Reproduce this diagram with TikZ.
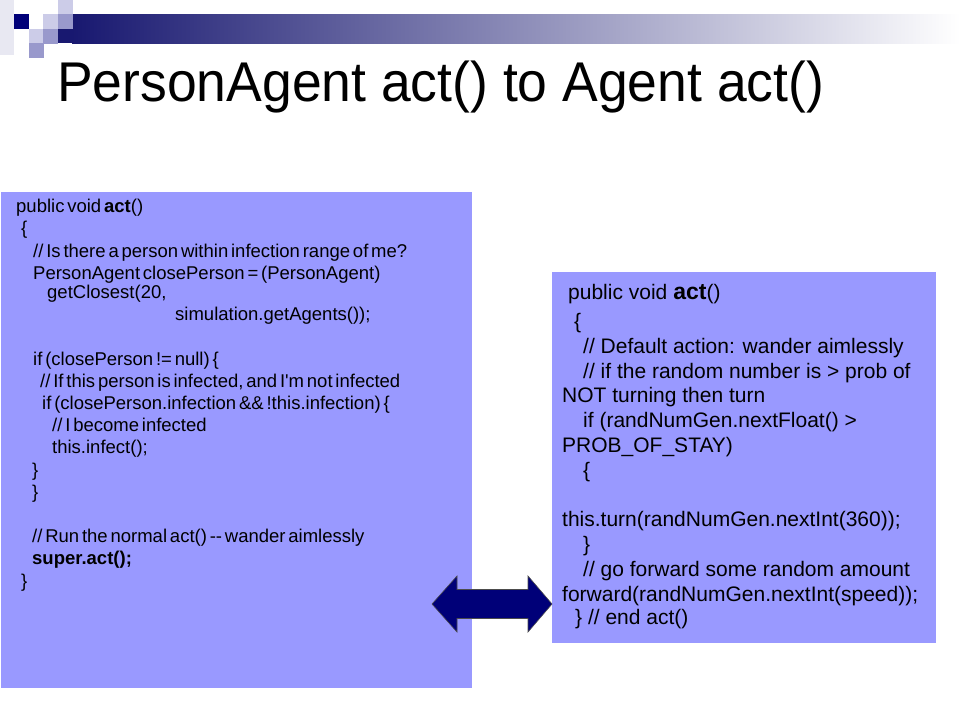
\documentclass[tikz,border=0pt]{standalone}
\usepackage{fontspec}
\setmainfont{Liberation Sans}
\newfontfamily\tightsans{Liberation Sans}[WordSpace=0.55]
\usepackage{graphicx}
\usetikzlibrary{positioning}

\definecolor{slidenavy}{RGB}{0,0,120}
\definecolor{barnavy}{RGB}{24,24,112}
\definecolor{pixlight}{RGB}{204,204,232}
\definecolor{pixmid}{RGB}{153,153,204}
\definecolor{pixfaint}{RGB}{232,232,242}
\definecolor{codefill}{RGB}{153,153,255}

\begin{document}
\begin{tikzpicture}[
x=1pt,y=-1pt,
codebox/.style={
  draw=none,
  fill=codefill,
  inner sep=0pt,
  anchor=north west
  },
codetext/.style={
  inner sep=0pt,
  anchor=base west,
  align=left
  },
pixel/.style={
  minimum size=14.5pt,
  inner sep=0pt,
  anchor=north west
  }
]
\useasboundingbox (0,0) rectangle (960,720);

% corner pixels and bar
\fill[pixfaint] (0,0) rectangle (14,55);
\shade[left color=barnavy, middle color={rgb,255:red,150;green,150;blue,180}, right color=white]
  (72,14) rectangle (960,43);
\fill[barnavy] (58,29) rectangle (72,43);
\node[pixel, fill=slidenavy] (pixA) at (14,14) {};
\node[pixel, fill=pixlight] (pixB) at (43,14) {};
\node[pixel, fill=pixlight] (pixC) at (58,0) {};
\node[pixel, fill=pixmid] (pixD) at (58,14) {};
\node[pixel, fill=pixlight] (pixE) at (29,29) {};
\node[pixel, fill=pixmid] (pixF) at (43,29) {};
\node[pixel, fill=pixmid] (pixG) at (29,43) {};

\node[anchor=base west, inner sep=0pt, font=\fontsize{56}{60}\selectfont] (title) at (57,101)
  {\scalebox{0.955}[1]{PersonAgent act() to Agent act()}};

% the two code boxes
\node[codebox, minimum width=471pt, minimum height=496pt] (personBox) at (1,192) {};
\node[codebox, minimum width=384pt, minimum height=371pt] (agentBox) at (552,272) {};

% last line baselines
\node[codetext, font=\tightsans\fontsize{18.5}{22.2}\selectfont] (personCode) at (16,587) {%
public void \textbf{act}()\\
\hspace*{5pt}\{\\
\hspace*{17pt}// Is there a person within infection range of me?\\
\hspace*{17pt}PersonAgent closePerson = (PersonAgent)\\[-3pt]
\hspace*{31pt}getClosest(20,\\
\hspace*{159pt}simulation.getAgents());\\[22.2pt]
\hspace*{17pt}if (closePerson != null) \{\\
\hspace*{24pt}// If this person is infected, and I'm not infected\\
\hspace*{26pt}if (closePerson.infection \&\& !this.infection) \{\\
\hspace*{36pt}// I become infected\\
\hspace*{36pt}this.infect();\\
\hspace*{16pt}\}\\
\hspace*{16pt}\}\\[22.2pt]
\hspace*{16pt}// Run the normal act() -{}- wander aimlessly\\
\hspace*{16pt}\textbf{super.act();}\\
\hspace*{5pt}\}};

\node[codetext, font=\fontsize{21}{24.8}\selectfont] (agentCode) at (562,624) {%
\hspace*{6pt}public void {\fontsize{23}{24.8}\selectfont\textbf{act}}()\\[4.2pt]
\hspace*{12pt}\{\\
\hspace*{21pt}// Default action: wander aimlessly\\
\hspace*{21pt}// if the random number is > prob of\\
NOT turning then turn\\
\hspace*{21pt}if (randNumGen.nextFloat() >\\
PROB\_OF\_STAY)\\
\hspace*{21pt}\{\\[24.8pt]
this.turn(randNumGen.nextInt(360));\\
\hspace*{21pt}\}\\
\hspace*{21pt}// go forward some random amount\\
forward(randNumGen.nextInt(speed));\\[-2pt]
\hspace*{13pt}\} // end act()};

% block arrow between the boxes
\coordinate (swap) at (492,604);
\filldraw[fill=slidenavy, draw=black!70, line width=0.6pt]
  ([xshift=-60pt]swap) -- ([xshift=-35pt,yshift=-28pt]swap)
  -- ([xshift=-35pt,yshift=-14.5pt]swap) -- ([xshift=36pt,yshift=-14.5pt]swap)
  -- ([xshift=36pt,yshift=-28pt]swap) -- ([xshift=60pt]swap)
  -- ([xshift=36pt,yshift=28pt]swap) -- ([xshift=36pt,yshift=14.5pt]swap)
  -- ([xshift=-35pt,yshift=14.5pt]swap) -- ([xshift=-35pt,yshift=28pt]swap) -- cycle;
\end{tikzpicture}
\end{document}
